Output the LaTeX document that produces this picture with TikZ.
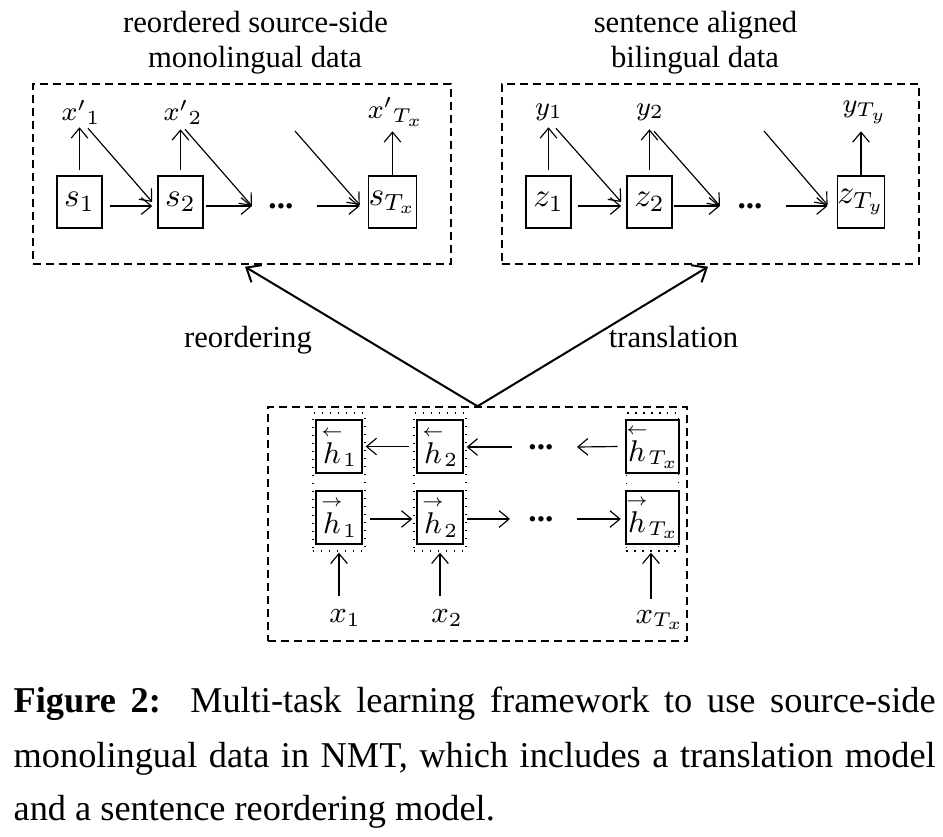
\documentclass[tikz,border=0pt]{standalone}
\usepackage{amsmath}
\usepackage{fontspec}
\setmainfont{Liberation Serif}
\usetikzlibrary{arrows.meta,calc}
\newcommand{\hleft}{\overset{\scriptscriptstyle\leftarrow}{h}}
\newcommand{\hright}{\overset{\scriptscriptstyle\rightarrow}{h}}
\begin{document}
\begin{tikzpicture}[x=0.3pt,y=-0.3pt,
  every node/.style={inner sep=0pt},
  titlefont/.style={font=\fontsize{9.2pt}{10.5pt}\selectfont},
  capfont/.style={font=\fontsize{10.9pt}{16.2pt}\selectfont},
  dbox/.style={draw, dash pattern=on 2.4pt off 1.5pt, line width=0.45pt},
  cell/.style={draw, line width=0.45pt, minimum width=13.5pt, minimum height=15.6pt, font=\fontsize{10.2pt}{12pt}\selectfont},
  hcell/.style={draw, line width=0.6pt, minimum width=13.8pt, minimum height=15.9pt, font=\fontsize{9pt}{11pt}\selectfont},
  dcol/.style={draw, dotted, line width=0.4pt, minimum width=15.6pt, minimum height=41.4pt},
  toplbl/.style={font=\fontsize{8.1pt}{10pt}\selectfont},
  inlbl/.style={font=\fontsize{9pt}{11pt}\selectfont},
  dotsl/.style={font=\fontsize{10pt}{12pt}\selectfont\bfseries},
  arr/.style={-{Straight Barb[length=3pt,width=5pt]}, line width=0.35pt},
  bigarr/.style={-{Straight Barb[length=3.6pt,width=6pt]}, line width=0.6pt}
]
\useasboundingbox (0,0) rectangle (943,836);

% titles
\node[titlefont, anchor=base] (t1a) at (255.5,32) {reordered source-side};
\node[titlefont, anchor=base] (t1b) at (255,67) {monolingual data};
\node[titlefont, anchor=base] (t2a) at (695.5,32) {sentence aligned};
\node[titlefont, anchor=base] (t2b) at (695,67) {bilingual data};

% dashed containers
\node[dbox, minimum width=125.4pt, minimum height=54pt] (lbox) at (242,174) {};
\node[dbox, minimum width=125.1pt, minimum height=54pt] (rbox) at (710.5,174) {};
\node[dbox, minimum width=125.7pt, minimum height=70.2pt] (bot) at (477.5,524) {};

% ---------- left group ----------
\node[cell] (s1) at (79.5,202) {$s_1$};
\node[cell] (s2) at (180.5,202) {$s_2$};
\node[cell] (sT) at (392.5,202) {$s_{T_x}$};
\node[toplbl] (xp1) at (81,112) {${x'}_1$};
\node[toplbl] (xp2) at (183,112) {${x'}_2$};
\node[toplbl] (xpT) at (396,112) {${x'}_{T_x}$};
\node[dotsl] (dl) at (281,206) {...};
\coordinate (dlin) at (252,206);
\coordinate (dlout) at (317,206);
\coordinate (dltop) at (295,131);

\draw[arr] ($(s1.north)+(0,-5)$) -- ($(s1.north)+(0,-48)$);
\draw[arr] ($(s2.north)+(0,-5)$) -- ($(s2.north)+(0,-46)$);
\draw[arr] (sT.north) -- ($(sT.north)+(0,-44)$);
\draw[arr] ($(s1.north)+(8.5,-47)$) -- ($(s2.west)+(-5,0)$);
\draw[arr] ($(s2.north)+(4.5,-46)$) -- (dlin);
\draw[arr] (dltop) -- ($(sT.west)+(-8,3)$);
\draw[arr] ($(s1.east)+(7,4)$) -- ($(s2.west)+(-5,4)$);
\draw[arr] ($(s2.east)+(2,4)$) -- (dlin);
\draw[arr] (dlout) -- ($(sT.west)+(-8,4)$);

% ---------- right group ----------
\node[cell] (z1) at (548.5,202) {$z_1$};
\node[cell] (z2) at (649.5,202) {$z_2$};
\node[cell] (zT) at (861,202) {$z_{T_y}$};
\node[toplbl] (y1) at (549,112) {$y_1$};
\node[toplbl] (y2) at (650,112) {$y_2$};
\node[toplbl] (yT) at (865,112) {$y_{T_y}$};
\node[dotsl] (dr) at (750,206) {...};
\coordinate (drin) at (720,206);
\coordinate (drout) at (786,206);
\coordinate (drtop) at (764,131);

\draw[arr] ($(z1.north)+(0,-5)$) -- ($(z1.north)+(0,-48)$);
\draw[arr] ($(z2.north)+(0,-5)$) -- ($(z2.north)+(0,-46)$);
\draw[arr] (zT.north) -- ($(zT.north)+(0,-44)$);
\draw[arr] ($(z1.north)+(7.5,-47)$) -- ($(z2.west)+(-5,0)$);
\draw[arr] ($(z2.north)+(4.5,-44)$) -- (drin);
\draw[arr] (drtop) -- ($(zT.west)+(-9,3)$);
\draw[arr] ($(z1.east)+(6,4)$) -- ($(z2.west)+(-5,4)$);
\draw[arr] ($(z2.east)+(1,4)$) -- (drin);
\draw[arr] (drout) -- ($(zT.west)+(-9,4)$);

% ---------- bottom encoder ----------
\node[dcol] (c1) at (339,482) {};
\node[dcol] (c2) at (440,482) {};
\node[dcol] (cT) at (652.5,482) {};
\node[hcell] (hb1) at (339,446.5) {${\hleft}_1$};
\node[hcell] (hf1) at (339,517) {${\hright}_1$};
\node[hcell] (hb2) at (440,446.5) {${\hleft}_2$};
\node[hcell] (hf2) at (440,517) {${\hright}_2$};
\node[hcell] (hbT) at (652.5,446.5) {${\hleft}_{T_x}$};
\node[hcell] (hfT) at (652.5,517) {${\hright}_{T_x}$};
\node[dotsl] (db) at (541,447) {...};
\node[dotsl] (df) at (541,519) {...};
\coordinate (b1) at (512,447);
\coordinate (b2) at (577,447);
\coordinate (f1) at (510,519);
\coordinate (f2) at (577,519);

\draw[arr] ($(hb2.west)+(-7,0)$) -- (hb2.west -| c1.east);
\draw[arr] (b1) -- (b1 -| c2.east);
\draw[arr] ($(hbT.west)+(-7,0)$) -- (b2);
\draw[arr] ($(c1.east |- hf1.east)+(4,2)$) -- ($(c2.west |- hf2.west)+(-1,2)$);
\draw[arr] ($(c2.east |- hf2.east)+(0,2)$) -- (f1);
\draw[arr] (f2) -- ($(cT.west |- hfT.west)+(-5,2)$);

\node[inlbl] (x1) at (345,618) {$x_1$};
\node[inlbl] (x2) at (447,618) {$x_2$};
\node[inlbl] (xT) at (660,620) {$x_{T_x}$};
\draw[arr] ($(c1.south)+(0,44)$) -- ($(c1.south)+(0,1)$);
\draw[arr] ($(c2.south)+(0,44)$) -- ($(c2.south)+(0,1)$);
\draw[arr] ($(cT.south)+(-1.5,47)$) -- ($(cT.south)+(-1.5,1)$);

% ---------- task arrows ----------
\draw[bigarr] (bot.north) -- ($(lbox.south)+(3,2)$);
\draw[bigarr] (bot.north) -- ($(rbox.south)+(-2.5,2)$);
\node[titlefont, anchor=base] (lr) at (248,347) {reordering};
\node[titlefont, anchor=base] (lt) at (673.5,347) {translation};

% ---------- caption ----------
\node[capfont, anchor=base west] (cap1) at (13,712) {\makebox[276.6pt][s]{\textbf{Figure 2:}\ \ Multi-task learning framework to use source-side}};
\node[capfont, anchor=base west] (cap2) at (13,767) {\makebox[276.6pt][s]{monolingual data in NMT, which includes a translation model}};
\node[capfont, anchor=base west] (cap3) at (13,820) {and a sentence reordering model.};
\end{tikzpicture}
\end{document}
